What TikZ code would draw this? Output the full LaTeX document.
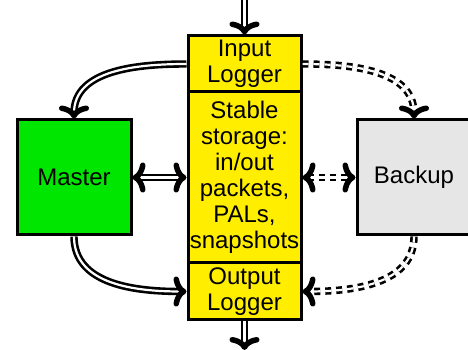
\documentclass[tikz,border=0pt]{standalone}
\usepackage{fontspec}
\setmainfont{Liberation Sans}
\usetikzlibrary{arrows.meta}
\definecolor{logyellow}{RGB}{255,238,0}
\definecolor{mastergreen}{RGB}{0,230,0}
\definecolor{backupgray}{RGB}{230,230,230}
\begin{document}
\begin{tikzpicture}[x=1pt,y=1pt,
  >={Computer Modern Rightarrow[length=13pt,width=30pt,line width=5.5pt]},
  box/.style={draw,line width=3pt,inner sep=0pt,align=center,
    font=\fontsize{24}{26}\selectfont},
  link/.style={double,double distance=2.2pt,line width=2.6pt},
  backlink/.style={link,dash pattern=on 6pt off 5pt}]
\useasboundingbox (0,0) rectangle (468,350);
\node[box,fill=logyellow,minimum width=113pt,minimum height=56pt] (IN) at (244.5,286) {Input\\Logger};
\node[box,fill=logyellow,minimum width=113pt,minimum height=171pt] (ST) at (244.5,172.5) {Stable\\storage:\\in/out\\packets,\\PALs,\\snapshots};
\node[box,fill=logyellow,minimum width=113pt,minimum height=57pt] (OUT) at (244.5,58.5) {Output\\Logger};
\node[box,fill=mastergreen,minimum width=114pt,minimum height=115pt] (MA) at (74,172.5) {Master};
\node[box,fill=backupgray,minimum width=114pt,minimum height=115pt] (BK) at (414,172.5) {Backup};
\coordinate (src) at (244.5,350);
\coordinate (sink) at (244.5,0);
\draw[link,->] (src) -- (IN);
\draw[link,->] (OUT) -- (sink);
\draw[link,->] (IN.west) to[out=180,in=90] (MA.north);
\draw[link,->] (MA.south) to[out=-90,in=180] (OUT.west);
\draw[link,<->] (MA) -- (ST);
\draw[backlink,->] (IN.east) to[out=0,in=90] (BK.north);
\draw[backlink,->] (BK.south) to[out=-90,in=0] (OUT.east);
\draw[backlink,<->] (ST) -- (BK);
\end{tikzpicture}
\end{document}
